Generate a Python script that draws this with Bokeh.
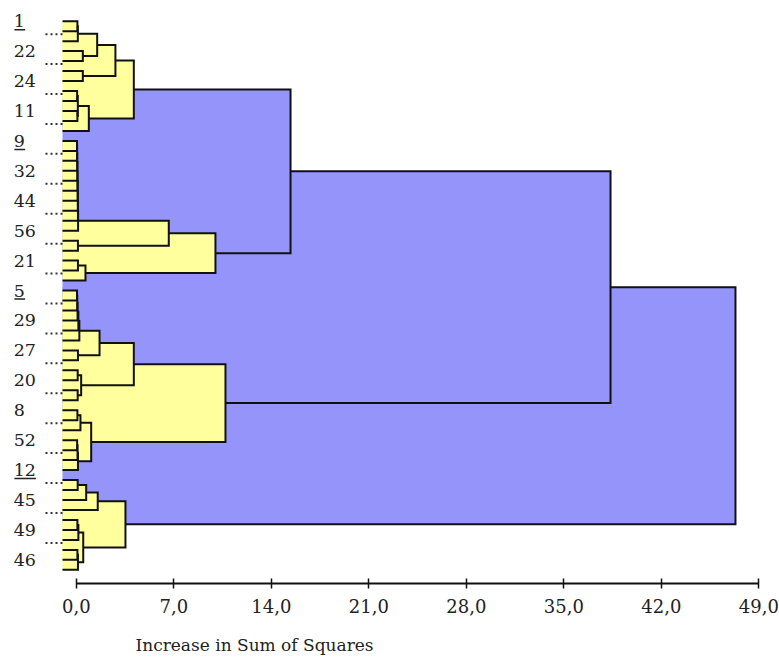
from bokeh.plotting import figure
from bokeh.models import Range1d, FixedTicker, Title
from bokeh.core.properties import value
from bokeh.embed import file_html
from bokeh.resources import INLINE

# ---------------- data ----------------
N_LEAVES = 56  # leaves in display order, 0 = top
# merges in linkage order: node id of merge k is N_LEAVES + k
merge_left = [0, 56, 3, 57, 5, 59, 7, 9, 62, 64, 61,
              12, 67, 68, 69, 70, 71, 72, 73, 74, 22, 75, 24, 78, 77, 66,
              27, 82, 83, 84, 85, 33, 86, 35, 37, 89, 88, 39, 93, 42, 95, 96, 94, 92, 81,
              46, 101, 102, 50, 104, 53, 106, 105, 103, 100]
merge_right = [1, 2, 4, 58, 6, 60, 8, 10, 63, 11, 65,
               13, 14, 15, 16, 17, 18, 19, 20, 21, 23, 76, 25, 26, 79, 80,
               28, 29, 30, 31, 32, 34, 87, 36, 38, 90, 91, 40, 41, 43, 44, 45, 97, 98, 99,
               47, 48, 49, 51, 52, 54, 55, 107, 108, 109]
merge_height = [0.08, 0.11, 0.47, 1.50, 0.47, 2.81, 0.06, 0.08, 0.11, 0.90, 4.13,
                0.05, 0.06, 0.07, 0.08, 0.09, 0.10, 0.11, 0.12, 0.13, 0.12, 6.64, 0.12, 0.66, 9.99, 15.38,
                0.05, 0.07, 0.09, 0.15, 0.22, 0.12, 1.67, 0.10, 0.10, 0.35, 4.13, 0.08, 0.30, 0.06, 0.09, 0.12, 1.07, 10.71, 38.35,
                0.10, 0.71, 1.54, 0.08, 0.15, 0.08, 0.12, 0.50, 3.53, 47.32]
LEAF_START = -0.99
BLUE_ABOVE = 12.0

label_leaf = [0, 3, 6, 9, 12, 15, 18, 21, 24, 27, 30, 33, 36, 39, 42, 45, 48, 51, 54]
label_text = ["1", "22", "24", "11", "9", "32", "44", "56", "21", "5",
              "29", "27", "20", "8", "52", "12", "45", "49", "46"]
underlined = ["1", "9", "5", "12"]
dot_leaf = [1, 4, 7, 10, 13, 16, 19, 22, 25, 28, 31, 34, 37, 40, 43, 46, 49, 52]

tick_values = [0, 7, 14, 21, 28, 35, 42, 49]
tick_labels = ["0,0", "7,0", "14,0", "21,0", "28,0", "35,0", "42,0", "49,0"]
x_title = "Increase in Sum of Squares"

# ---------------- geometry from the tree ----------------
pos = {i: (float(i), LEAF_START) for i in range(N_LEAVES)}
blue_q, yellow_q = [], []
line_xs, line_ys = [], []
for k, (a, b, h) in enumerate(zip(merge_left, merge_right, merge_height)):
    ya, xa = pos[a]
    yb, xb = pos[b]
    q = (h, min(ya, yb), max(ya, yb))
    (blue_q if h > BLUE_ABOVE else yellow_q).append(q)
    line_xs.append([xa, h, h, xb])
    line_ys.append([ya, ya, yb, yb])
    pos[N_LEAVES + k] = ((ya + yb) / 2.0, h)

blue_q.sort(reverse=True)
yellow_q.sort(reverse=True)

# ---------------- figure ----------------
FONT = "DejaVu Serif"
p = figure(frame_width=779, frame_height=583, output_backend="svg", toolbar_location=None,
           x_range=Range1d(-5.44, 50.48), y_range=Range1d(56.37, -2.075),
           y_axis_location=None, min_border=0, min_border_bottom=76)
p.outline_line_color = None
p.xgrid.visible = False
p.ygrid.visible = False
p.background_fill_color = "white"
p.border_fill_color = "white"

p.quad(left=LEAF_START, right=[q[0] for q in blue_q], top=[q[1] for q in blue_q],
       bottom=[q[2] for q in blue_q], fill_color="#9494FB", line_color=None)
p.quad(left=LEAF_START, right=[q[0] for q in yellow_q], top=[q[1] for q in yellow_q],
       bottom=[q[2] for q in yellow_q], fill_color="#FFFF9E", line_color=None)
p.multi_line(xs=line_xs, ys=line_ys, line_color="#111111", line_width=2, line_join="miter")

# leaf labels
LABEL_X = -4.49
p.text(x=LABEL_X, y=label_leaf, text=label_text, text_font=value(FONT), text_font_size="17.5px",
       text_baseline="middle", text_align="left", text_color="#222222")
ul_y, ul_x0, ul_x1 = [], [], []
for t in underlined:
    i = label_text.index(t)
    ul_y.append(label_leaf[i] + 0.85)
    ul_x0.append(LABEL_X + 0.05)
    ul_x1.append(LABEL_X + 0.05 + 0.77 * len(t))
p.segment(x0=ul_x0, x1=ul_x1, y0=ul_y, y1=ul_y, line_color="#222222", line_width=1.5)

# dotted connectors
p.segment(x0=-2.21, x1=LEAF_START, y0=[d + 0.3 for d in dot_leaf], y1=[d + 0.3 for d in dot_leaf],
          line_color="#333333", line_width=2, line_dash="2 3")

# axis
ax = p.xaxis[0]
ax.ticker = FixedTicker(ticks=tick_values)
ax.major_label_overrides = {v: s for v, s in zip(tick_values, tick_labels)}
ax.bounds = (tick_values[0], tick_values[-1])
ax.axis_line_width = 2
ax.axis_line_color = "#111111"
ax.major_tick_line_color = "#111111"
ax.major_tick_line_width = 1.5
ax.major_tick_in = 5
ax.major_tick_out = 5
ax.minor_tick_line_color = None
ax.major_label_standoff = 10
ax.major_label_text_font = FONT
ax.major_label_text_font_size = "18px"
ax.major_label_text_color = "#222222"

p.add_layout(Title(text=x_title, align="left", offset=135, text_font=FONT,
                   text_font_size="17px", text_font_style="normal", text_color="#222222",
                   standoff=34), "below")

open("out.html", "w").write(file_html(p, INLINE))
